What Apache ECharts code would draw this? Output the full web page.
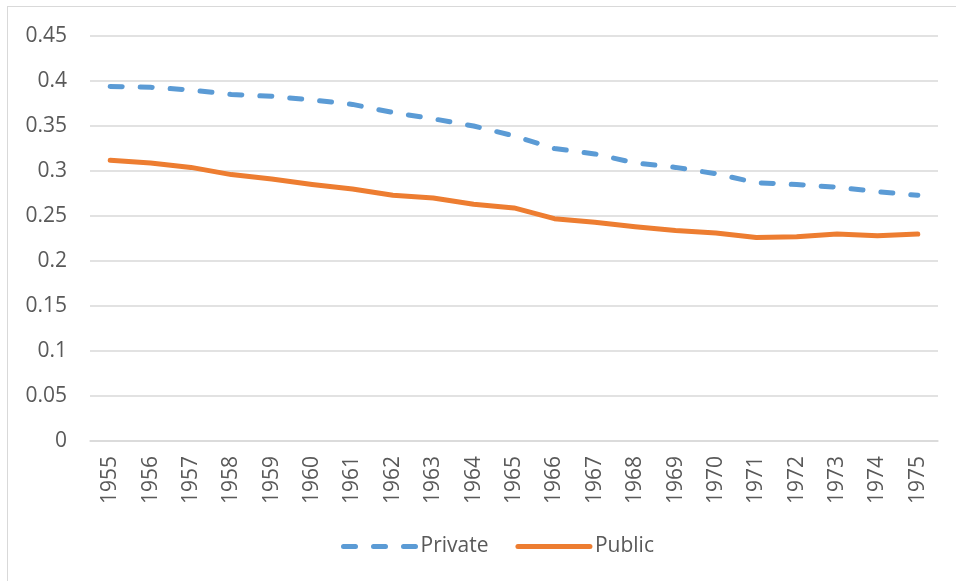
<!DOCTYPE html>
<html>
<head>
<meta charset="utf-8">
<script src="https://cdn.jsdelivr.net/npm/echarts@6/dist/echarts.min.js"></script>
<style>
html, body { margin: 0; padding: 0; background: #fff; }
#frame { position: absolute; left: 7px; top: 6px; width: 960px; height: 590px; border-left: 1px solid #d9d9d9; border-top: 1px solid #d9d9d9; }
#chart { position: absolute; left: 0; top: 0; width: 956px; height: 581px; }
</style>
</head>
<body>
<div id="frame"></div>
<div id="chart"></div>
<script>
// data
const years = ['1955', '1956', '1957', '1958', '1959', '1960', '1961', '1962', '1963', '1964', '1965',
    '1966', '1967', '1968', '1969', '1970', '1971', '1972', '1973', '1974', '1975'];
const privateShare = [0.394, 0.393, 0.390, 0.385, 0.383, 0.379, 0.374, 0.365, 0.358, 0.350, 0.339,
    0.325, 0.319, 0.309, 0.304, 0.297, 0.287, 0.285, 0.282, 0.277, 0.273];
const publicShare = [0.312, 0.309, 0.304, 0.296, 0.291, 0.285, 0.280, 0.273, 0.270, 0.263, 0.259,
    0.247, 0.243, 0.238, 0.234, 0.231, 0.226, 0.227, 0.230, 0.228, 0.230];
const seriesNames = ['Private', 'Public'];

const textColor = '#595959';
const gridColor = '#d9d9d9';
const font = 'Open Sans';

const chart = echarts.init(document.getElementById('chart'), null, {renderer: 'canvas'});
chart.setOption({
    animation: false,
    grid: {left: 90, right: 18, top: 36, bottom: 140},
    legend: {
        bottom: 19,
        left: 336,
        itemWidth: 72,
        itemHeight: 14,
        itemGap: 27,
        itemStyle: {opacity: 0},
        lineStyle: {width: 5, cap: 'round'},
        textStyle: {color: textColor, fontSize: 21, fontFamily: font},
        data: seriesNames
    },
    xAxis: {
        type: 'category',
        data: years,
        boundaryGap: true,
        axisLine: {lineStyle: {color: gridColor, width: 1.5}},
        axisTick: {show: false},
        axisLabel: {
            rotate: 90,
            margin: 15,
            color: textColor,
            fontSize: 21,
            fontFamily: font,
            interval: 0
        }
    },
    yAxis: {
        type: 'value',
        min: 0,
        max: 0.45,
        interval: 0.05,
        axisLine: {show: false},
        axisTick: {show: false},
        splitLine: {lineStyle: {color: gridColor, width: 1.5}},
        axisLabel: {
            margin: 23,
            color: textColor,
            fontSize: 21,
            fontFamily: font,
            formatter: (v) => String(Math.round(v * 100) / 100)
        }
    },
    series: [
        {
            name: seriesNames[0],
            type: 'line',
            data: privateShare,
            symbol: 'none',
            color: '#5b9bd5',
            lineStyle: {width: 5, type: [12, 18], cap: 'round', color: '#5b9bd5'}
        },
        {
            name: seriesNames[1],
            type: 'line',
            data: publicShare,
            symbol: 'none',
            color: '#ed7d31',
            lineStyle: {width: 5, cap: 'round', join: 'round', color: '#ed7d31'}
        }
    ]
});
</script>
</body>
</html>
